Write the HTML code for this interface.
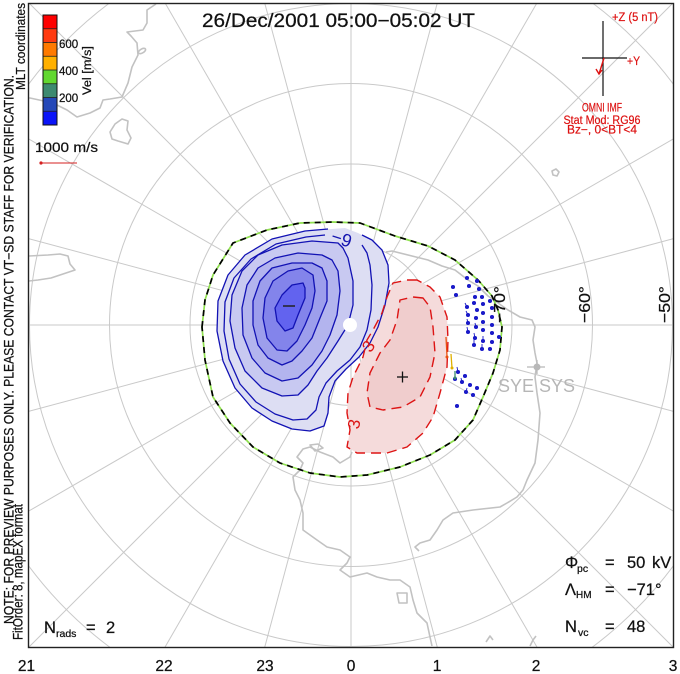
<!DOCTYPE html>
<html><head><meta charset="utf-8"><style>
html,body{margin:0;padding:0;background:#fff;width:680px;height:674px;overflow:hidden;}
svg{display:block;}
text{font-family:"Liberation Sans",sans-serif;}
.k{fill:#111;stroke:#111;stroke-width:0.25;}
</style></head><body>
<svg width="680" height="674" viewBox="0 0 680 674" xmlns="http://www.w3.org/2000/svg">
<defs><clipPath id="fr"><rect x="28" y="3" width="646" height="645"/></clipPath></defs>
<rect width="680" height="674" fill="#fff"/>
<g clip-path="url(#fr)">
<!-- grid -->
<g stroke="#c9c9c9" stroke-width="1" fill="none">
<circle cx="351" cy="325" r="80.5"/><circle cx="351" cy="325" r="161"/><circle cx="351" cy="325" r="241.5"/><circle cx="351" cy="325" r="321.5"/>
<path d="M28,85 A402.5,402.5 0 0,1 109.5,3 M592.5,3 A402.5,402.5 0 0,1 674,85 M674,565 A402.5,402.5 0 0,1 591.2,648 M110.8,648 A402.5,402.5 0 0,1 28,565"/>
<line x1="28" y1="325" x2="674" y2="325"/>
<line x1="28" y1="238.5" x2="674" y2="411.5"/>
<line x1="28" y1="138.5" x2="674" y2="511.5"/>
<line x1="29" y1="3" x2="674" y2="648"/>
<line x1="165.1" y1="3" x2="537.5" y2="648"/>
<line x1="264.7" y1="3" x2="437.5" y2="648"/>
<line x1="351" y1="3" x2="351" y2="648"/>
<line x1="437.3" y1="3" x2="264.5" y2="648"/>
<line x1="536.9" y1="3" x2="164.5" y2="648"/>
<line x1="673" y1="3" x2="28" y2="648"/>
<line x1="674" y1="138.5" x2="28" y2="511.5"/>
<line x1="674" y1="238.5" x2="28" y2="411.5"/>
</g>
<!-- coastlines -->
<g stroke="#c2c2c2" stroke-width="1.6" fill="none" stroke-linejoin="round">
<polyline points="156,4 147,10 147,23 143,30 127,32 131,36 137,43 138,55 132,67 128,83 122,97 110,99 103,100 100,108 90,113 77,117 67,110 53,103 30,98 29,98"/>
<polygon points="110,132 115,124 122,119 128,121 127,130 131,138 128,144 118,141 112,139"/>
<ellipse cx="142" cy="51" rx="4" ry="2" transform="rotate(-30 142 51)"/>
<polyline points="29,256 48,255 60,254 68,256 70,264 75,270 66,273 51,278 38,280 29,281"/>
<polyline points="386,252 392,251 412,256 428,260 442,266 455,270 468,280 478,286 488,296 498,303 508,310 520,317 532,320 535,327 533,340 535,353 537,363 535,377 537,393 540,413 538,440 535,463 527,480 523,490 517,497 507,503 500,507 473,510 453,513 443,520 437,530 430,540 420,543 415,547 419,551"/>
<polyline points="352,452 350,457 340,463 333,457 320,452 310,447 303,449 297,457 303,463 300,470 293,477 295,490 300,500 303,513 303,530 317,540 327,547 340,550 350,557 347,563 340,570 350,577 367,573 377,577 390,580 400,580 410,587 413,600 417,613 427,623 430,637 432,646"/>
<polygon points="397,593 407,593 407,603 399,603"/>
<polygon points="310,445 318,444 323,448 315,451"/>
<polyline points="486,642 490,636 493,640"/>
<polyline points="530,646 533,640 536,636"/>
<path d="M552,171 l4,-2 l3,3 l-2,4 l-4,-1 z"/>
</g>
<!-- SYE SYS marker -->
<g fill="#b8b8b8" stroke="#b8b8b8">
<circle cx="537" cy="367" r="3.5" stroke="none"/>
<line x1="527" y1="367" x2="545" y2="367" stroke-width="1.2"/>
<line x1="537" y1="360" x2="537" y2="374" stroke-width="1.2"/>
</g>
<text x="498" y="392" font-size="18" fill="#b6b6b6" textLength="77" lengthAdjust="spacingAndGlyphs">SYE SYS</text>

<!-- blue fills -->
<g stroke="none">
<polygon fill="#dddef3" points="345,228 332,229 305,231 272,239 245,255 228,275 218,301 217,331 223,361 235,388 252,408 272,421 292,429 310,431 324,426 328,413 329,397 335,381 346,369 359,357 370,343 378,327 385,305 389,283 388,265 382,250 372,240 358,233"/>
<polygon fill="#c8c9f1" points="343,248 338,243 312,241 282,245 258,255 242,271 232,295 230,321 235,348 245,371 262,388 282,396 298,395 308,385 317,371 327,358 338,341 348,325 353,305 353,281 348,258"/>
<polygon fill="#b3b4ee" points="332,260 322,255 298,253 275,258 258,268 247,285 242,308 243,335 252,358 265,373 282,381 298,378 312,365 322,351 330,335 337,315 340,291 338,271"/>
<polygon fill="#9d9eec" points="322,268 312,263 292,263 272,268 260,281 253,301 253,325 258,345 268,358 282,365 292,361 302,351 312,338 320,318 327,301 327,281"/>
<polygon fill="#8384eb" points="313,275 302,268 288,271 273,281 265,298 263,318 267,338 277,350 287,351 297,341 305,325 312,308 315,291"/>
<polygon fill="#6263ef" points="305,288 303,283 292,285 282,295 275,308 277,321 285,331 293,328 298,315 305,298"/>
</g>
<!-- red fills -->
<polygon fill="#f5dbdb" points="417,280 407,280 393,283 387,297 382,313 373,330 367,340 363,357 353,377 348,393 347,413 350,430 347,447 357,453 387,453 407,447 423,433 433,417 440,393 447,367 448,340 447,317 440,297 430,287"/>
<polygon fill="#f0cdcd" points="423,298 413,297 400,300 397,320 390,340 380,353 370,373 367,393 370,407 383,410 403,407 420,397 430,377 435,353 433,327 430,307"/>

<!-- blue contour lines -->
<g stroke="#1212b4" stroke-width="1.3" fill="none" stroke-linejoin="round">
<polyline points="328,229 305,231 272,239 245,255 228,275 218,301 217,331 223,361 235,388 252,408 272,421 292,429 310,431 324,426 328,413 329,397 335,381 346,369 359,357 370,343 378,327 385,305 389,283 388,265 382,250 372,240 362,235"/>
<polyline points="362,245 367,253 370,265 372,285 371,310 367,330 360,347 350,360 337,371 326,383 319,397 316,410 307,419 293,420 275,414 256,402 240,384 229,359 224,331 225,302 234,278 251,259 276,244 306,237 325,235"/>
<polygon points="343,248 338,243 312,241 282,245 258,255 242,271 232,295 230,321 235,348 245,371 262,388 282,396 298,395 308,385 317,371 327,358 338,341 348,325 353,305 353,281 348,258"/>
<polygon points="332,260 322,255 298,253 275,258 258,268 247,285 242,308 243,335 252,358 265,373 282,381 298,378 312,365 322,351 330,335 337,315 340,291 338,271"/>
<polygon points="322,268 312,263 292,263 272,268 260,281 253,301 253,325 258,345 268,358 282,365 292,361 302,351 312,338 320,318 327,301 327,281"/>
<polygon points="313,275 302,268 288,271 273,281 265,298 263,318 267,338 277,350 287,351 297,341 305,325 312,308 315,291"/>
<polygon points="305,288 303,283 292,285 282,295 275,308 277,321 285,331 293,328 298,315 305,298"/>
</g>
<text x="331" y="246" font-size="18" fill="#1515b0" transform="rotate(18 345 240)">−9</text>
<line x1="283" y1="306" x2="295" y2="306" stroke="#222" stroke-width="1.5"/>

<!-- red contour lines -->
<g stroke="#dd1414" stroke-width="1.4" fill="none" stroke-dasharray="10,6" stroke-linejoin="round">
<polygon points="417,280 407,280 393,283 387,297 382,313 373,330 367,340 363,357 353,377 348,393 347,413 350,430 347,447 357,453 387,453 407,447 423,433 433,417 440,393 447,367 448,340 447,317 440,297 430,287"/>
<polygon points="423,298 413,297 400,300 397,320 390,340 380,353 370,373 367,393 370,407 383,410 403,407 420,397 430,377 435,353 433,327 430,307"/>
</g>
<text x="363" y="351" font-size="17" fill="#dd1414" transform="rotate(-55 369 345)">3</text>
<text x="349" y="428" font-size="17" fill="#dd1414" transform="rotate(-80 355 423)">3</text>
<g stroke="#111" stroke-width="1.3"><line x1="397" y1="377" x2="408" y2="377"/><line x1="402.5" y1="371.5" x2="402.5" y2="382.5"/></g>

<circle cx="350" cy="325" r="7" fill="#fff"/>

<!-- HM boundary -->
<g fill="none" stroke-width="1.7" stroke-linejoin="round">
<polygon stroke="#90e050" points="202,327 205,300 213,275 233,243 267,230 300,223 333,222 360,223 395,236 428,246 455,260 478,280 492,296 498,310 502,327 500,350 493,373 483,397 473,420 455,440 430,455 400,467 367,475 340,477 310,473 280,463 253,447 230,423 213,397 205,360"/>
<polygon stroke="#000" stroke-dasharray="6,5" points="202,327 205,300 213,275 233,243 267,230 300,223 333,222 360,223 395,236 428,246 455,260 478,280 492,296 498,310 502,327 500,350 493,373 483,397 473,420 455,440 430,455 400,467 367,475 340,477 310,473 280,463 253,447 230,423 213,397 205,360"/>
</g>

<!-- vectors -->
<g fill="#1a1ac8" stroke="#1a1ac8" stroke-width="0.9">
<circle cx="467" cy="278" r="1.6"/><circle cx="477" cy="281" r="1.6"/><circle cx="453" cy="287" r="1.6"/><circle cx="469" cy="286" r="1.6"/><circle cx="479" cy="289" r="1.6"/>
<circle cx="456" cy="295" r="1.6"/><circle cx="475" cy="297" r="1.6"/><circle cx="482" cy="297" r="1.6"/><circle cx="490" cy="301" r="1.6"/><circle cx="474" cy="303" r="1.6"/>
<circle cx="483" cy="304" r="1.6"/><circle cx="467" cy="307" r="1.6"/><circle cx="492" cy="308" r="1.6"/><circle cx="477" cy="310" r="1.6"/><circle cx="483" cy="313" r="1.6"/>
<circle cx="468" cy="315" r="1.6"/><circle cx="492" cy="317" r="1.6"/><circle cx="476" cy="318" r="1.6"/><circle cx="483" cy="322" r="1.6"/><circle cx="468" cy="323" r="1.6"/>
<circle cx="492" cy="325" r="1.6"/><circle cx="476" cy="327" r="1.6"/><circle cx="468" cy="332" r="1.6"/><circle cx="483" cy="330" r="1.6"/><circle cx="492" cy="333" r="1.6"/>
<circle cx="499" cy="337" r="1.6"/><circle cx="475" cy="338" r="1.6"/><circle cx="483" cy="341" r="1.6"/><circle cx="492" cy="342" r="1.6"/><circle cx="474" cy="345" r="1.6"/>
<circle cx="482" cy="349" r="1.6"/><circle cx="490" cy="349" r="1.6"/>
<circle cx="458" cy="372" r="1.6"/><circle cx="465" cy="376" r="1.6"/><circle cx="455" cy="379" r="1.6"/><circle cx="462" cy="382" r="1.6"/><circle cx="470" cy="385" r="1.6"/>
<circle cx="477" cy="388" r="1.6"/><circle cx="466" cy="392" r="1.6"/><circle cx="473" cy="395" r="1.6"/><circle cx="457" cy="406" r="1.6"/>
<line x1="467" y1="307" x2="465" y2="303"/><line x1="468" y1="315" x2="466" y2="311"/><line x1="468" y1="323" x2="467" y2="319"/><line x1="468" y1="332" x2="467" y2="327"/>
<line x1="475" y1="338" x2="474" y2="333"/><line x1="474" y1="345" x2="474" y2="339"/><line x1="482" y1="349" x2="482" y2="344"/><line x1="483" y1="341" x2="483" y2="336"/>
<line x1="476" y1="327" x2="475" y2="323"/><line x1="458" y1="372" x2="457" y2="367"/><line x1="462" y1="382" x2="461" y2="378"/><line x1="466" y1="392" x2="467" y2="388"/>
</g>
<g stroke-width="1.3">
<line x1="446" y1="337" x2="447" y2="356" stroke="#e85010"/><circle cx="447" cy="357" r="1.5" fill="#e85010"/>
<line x1="451" y1="354" x2="452" y2="368" stroke="#e0b000"/><circle cx="452" cy="368" r="1.5" fill="#e0b000"/>
<line x1="455" y1="371" x2="455" y2="378" stroke="#3a8a70"/><circle cx="455" cy="378" r="1.5" fill="#3a8a70"/>
</g>
</g>

<!-- frame -->
<rect x="28.5" y="3.5" width="645" height="644" fill="none" stroke="#222" stroke-width="1.4"/>

<!-- latitude labels -->
<text class="k" transform="translate(505,323) rotate(-90)" font-size="16" textLength="37" lengthAdjust="spacingAndGlyphs">−70°</text>
<text class="k" transform="translate(590,323) rotate(-90)" font-size="16" textLength="37" lengthAdjust="spacingAndGlyphs">−60°</text>
<text class="k" transform="translate(670,323) rotate(-90)" font-size="16" textLength="37" lengthAdjust="spacingAndGlyphs">−50°</text>

<!-- title -->
<text class="k" x="202" y="27" font-size="19" textLength="273" lengthAdjust="spacingAndGlyphs">26/Dec/2001 05:00−05:02 UT</text>

<!-- color bar -->
<g stroke="none">
<rect x="43" y="15" width="14" height="13.75" fill="#fe0000"/>
<rect x="43" y="28.75" width="14" height="13.75" fill="#ff3a10"/>
<rect x="43" y="42.5" width="14" height="13.75" fill="#ff7a00"/>
<rect x="43" y="56.25" width="14" height="13.75" fill="#ffb000"/>
<rect x="43" y="70" width="14" height="13.75" fill="#62d830"/>
<rect x="43" y="83.75" width="14" height="13.75" fill="#3d8a70"/>
<rect x="43" y="97.5" width="14" height="13.75" fill="#2448b8"/>
<rect x="43" y="111.25" width="14" height="13.75" fill="#0a14f8"/>
</g>
<g stroke="#222" stroke-width="0.8">
<line x1="43" y1="28.75" x2="57" y2="28.75"/><line x1="43" y1="42.5" x2="57" y2="42.5"/><line x1="43" y1="56.25" x2="57" y2="56.25"/><line x1="43" y1="70" x2="57" y2="70"/><line x1="43" y1="83.75" x2="57" y2="83.75"/><line x1="43" y1="97.5" x2="57" y2="97.5"/><line x1="43" y1="111.25" x2="57" y2="111.25"/>
</g>
<rect x="43" y="15" width="14" height="110" fill="none" stroke="#111" stroke-width="1"/>
<text class="k" x="59" y="48" font-size="11.5">600</text>
<text class="k" x="59" y="75" font-size="11.5">400</text>
<text class="k" x="59" y="102" font-size="11.5">200</text>
<text class="k" transform="translate(91,95) rotate(-90)" font-size="11.5" textLength="49" lengthAdjust="spacingAndGlyphs">Vel [m/s]</text>

<!-- side texts -->
<text class="k" transform="translate(13.5,624) rotate(-90)" font-size="14" textLength="549" lengthAdjust="spacingAndGlyphs">NOTE: FOR PREVIEW PURPOSES ONLY. PLEASE CONTACT VT−SD STAFF FOR VERIFICATION.</text>
<text class="k" transform="translate(22.5,640) rotate(-90)" font-size="14" textLength="136" lengthAdjust="spacingAndGlyphs">FitOrder: 8, mapEX format</text>
<text class="k" transform="translate(25,90) rotate(-90)" font-size="13" textLength="87" lengthAdjust="spacingAndGlyphs">MLT coordinates</text>

<!-- 1000 m/s -->
<text class="k" x="35" y="152" font-size="14" textLength="63" lengthAdjust="spacingAndGlyphs">1000 m/s</text>
<line x1="41" y1="163" x2="77" y2="163" stroke="#d42020" stroke-width="1"/>
<circle cx="41" cy="163" r="1.6" fill="#d42020"/>

<!-- IMF dial -->
<g stroke="#111" stroke-width="1.2"><line x1="603" y1="21" x2="603" y2="96"/><line x1="582" y1="58" x2="627" y2="58"/></g>
<g stroke="#dd1111" stroke-width="1.4" fill="none"><line x1="604" y1="58" x2="599" y2="74"/><polyline points="596,69 599,74 602,70"/></g>
<g fill="#dd1111" stroke="#dd1111" stroke-width="0.2" font-size="11.5">
<text x="612" y="21" textLength="46" lengthAdjust="spacingAndGlyphs">+Z (5 nT)</text>
<text x="627" y="65" textLength="13" lengthAdjust="spacingAndGlyphs">+Y</text>
<text x="602" y="111.5" text-anchor="middle" textLength="40" lengthAdjust="spacingAndGlyphs">OMNI IMF</text>
<text x="602" y="124" text-anchor="middle" textLength="77" lengthAdjust="spacingAndGlyphs">Stat Mod: RG96</text>
<text x="602" y="133.5" text-anchor="middle" textLength="70" lengthAdjust="spacingAndGlyphs">Bz−, 0&lt;BT&lt;4</text>
</g>

<!-- stats -->
<g class="k" font-size="16.5">
<text x="565" y="568">Φ</text><text x="577" y="572" font-size="10.5">pc</text><text x="605" y="568">=</text><text x="627" y="568">50</text><text x="652" y="568">kV</text>
<text x="565" y="595">Λ</text><text x="576" y="598" font-size="10">HM</text><text x="605" y="595">=</text><text x="627" y="595">−71°</text>
<text x="565" y="632">N</text><text x="578" y="636" font-size="10.5">vc</text><text x="605" y="632">=</text><text x="627" y="632">48</text>
<text x="44" y="633">N</text><text x="56" y="637" font-size="10.5">rads</text><text x="86" y="633">=</text><text x="106" y="633">2</text>
</g>

<!-- MLT labels -->
<g class="k" font-size="15.5" text-anchor="middle">
<text x="26.5" y="671">21</text><text x="164" y="671">22</text><text x="265" y="671">23</text><text x="351" y="671">0</text><text x="437" y="671">1</text><text x="536" y="671">2</text><text x="673" y="671">3</text>
</g>
</svg>
</body></html>
